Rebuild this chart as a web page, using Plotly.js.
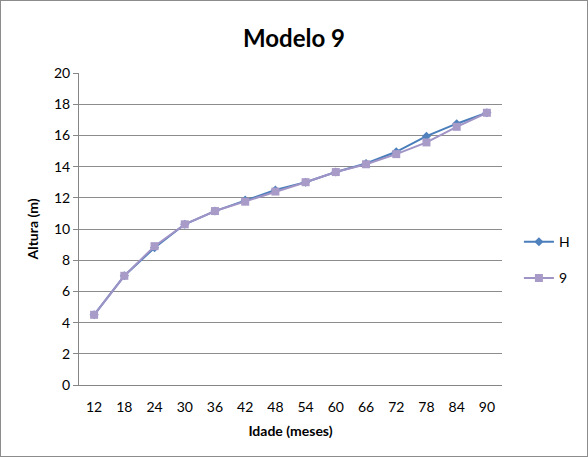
<!DOCTYPE html>
<html>
<head>
<meta charset="utf-8">
<script src="https://cdn.plot.ly/plotly-3.0.1.min.js"></script>
<style>
  html, body { margin: 0; padding: 0; background: #fff; }
  #chart { width: 586px; height: 455px; border: 1px solid #8c8c8c; }
</style>
</head>
<body>
<div id="chart"></div>
<script>
// Idade (meses) categories
const idade = ['12', '18', '24', '30', '36', '42', '48', '54', '60', '66', '72', '78', '84', '90'];
// Altura observada (H)
const alturaH = [4.5, 7.0, 8.8, 10.3, 11.15, 11.85, 12.5, 13.0, 13.65, 14.2, 14.95, 15.95, 16.75, 17.45];
// Altura estimada pelo modelo 9
const altura9 = [4.5, 7.0, 8.9, 10.3, 11.15, 11.75, 12.4, 13.0, 13.65, 14.15, 14.8, 15.55, 16.55, 17.45];

const font = 'Lato, "Open Sans", sans-serif';

const traces = [
  {
    x: idade, y: alturaH, name: 'H', legendgroup: 'h', type: 'scatter', mode: 'lines+markers',
    line: { color: '#4a7ebb', width: 2 },
    marker: { symbol: 'diamond', size: 7, color: '#4f81bd' }
  },
  {
    x: idade, y: altura9, name: '9', legendgroup: 'm9', type: 'scatter', mode: 'lines+markers',
    line: { color: '#a093c6', width: 2 },
    marker: { symbol: 'square', size: 8, color: '#a99bc8' }
  }
];

const layout = {
  width: 586, height: 455,
  margin: { l: 78, r: 81, t: 72, b: 71 },
  paper_bgcolor: '#fff', plot_bgcolor: '#fff',
  font: { family: font, size: 14, color: '#000' },
  title: {
    text: '<b>Modelo 9</b>',
    font: { family: font, size: 24, color: '#000' },
    x: 0.5, xanchor: 'center', y: 0.918, yanchor: 'middle'
  },
  xaxis: {
    type: 'category', range: [-0.5, 13.5],
    showgrid: false, zeroline: false,
    showline: true, linecolor: '#868686', linewidth: 1,
    ticks: 'outside', ticklen: 9, tickcolor: 'rgba(0,0,0,0)',
    tickfont: { family: font, size: 14, color: '#000' },
    title: { text: '<b>Idade (meses)</b>', font: { family: font, size: 14, color: '#000' }, standoff: 12 }
  },
  yaxis: {
    range: [0, 20], dtick: 2,
    showgrid: true, gridcolor: '#8c8c8c', gridwidth: 1,
    zeroline: false,
    showline: true, linecolor: '#868686', linewidth: 1,
    ticks: 'outside', ticklen: 5, tickcolor: '#868686',
    tickfont: { family: font, size: 14, color: '#000' },
    title: { text: '<b>Altura (m)</b>', font: { family: font, size: 14, color: '#000' }, standoff: 12 }
  },
  legend: {
    x: 1.04, xanchor: 'left', y: 0.40, yanchor: 'middle',
    font: { family: font, size: 14, color: '#000' },
    tracegroupgap: 15, itemwidth: 30,
    bgcolor: 'rgba(0,0,0,0)'
  },
  showlegend: true
};

Plotly.newPlot('chart', traces, layout, { displayModeBar: false, staticPlot: true });
</script>
</body>
</html>
